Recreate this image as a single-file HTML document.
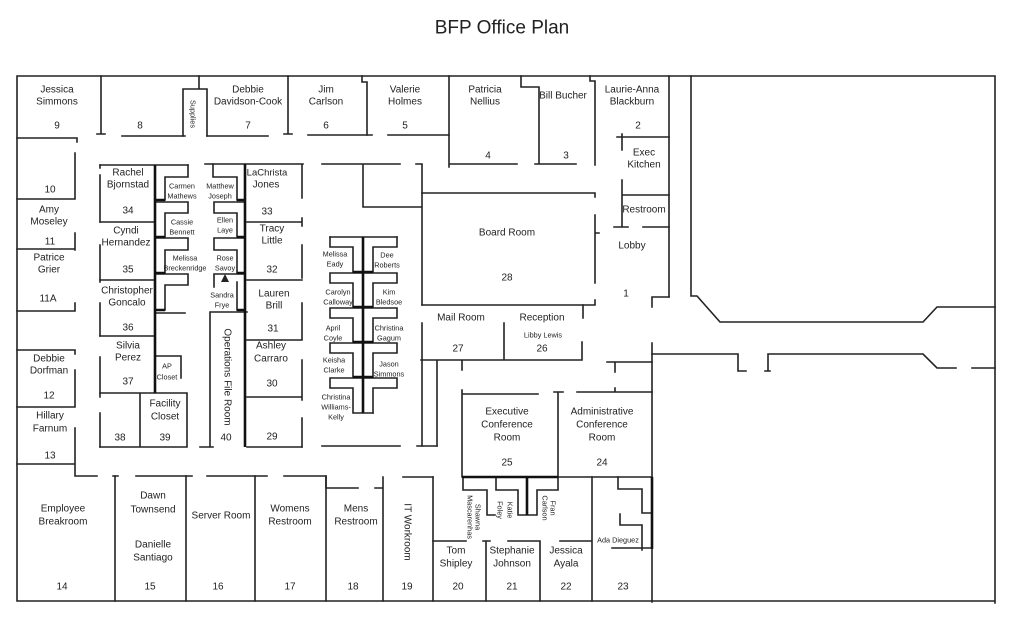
<!DOCTYPE html>
<html><head><meta charset="utf-8">
<style>
html,body{margin:0;padding:0;background:#fff;}
svg{display:block;}
text{font-family:"Liberation Sans",sans-serif;fill:#222;text-anchor:middle;dominant-baseline:central;}
.t{font-size:10px;}
.s{font-size:7.3px;}
.w{fill:none;stroke:#222;stroke-width:1.6;stroke-linecap:square;}
.k{fill:none;stroke:#111;stroke-width:2.6;}
</style></head>
<body>
<svg width="1022" height="624" viewBox="0 0 1022 624" xmlns="http://www.w3.org/2000/svg">
<rect width="1022" height="624" fill="#fff"/>
<text x="502" y="28" style="font-size:19px">BFP Office Plan</text>

<g class="w">
<!-- outer -->
<path d="M17,76 H995 V603 M17,76 V601 H995"/>
<!-- top rooms -->
<path d="M17,138 H77 V142"/>
<path d="M101,76 V134 M97,134 H105"/>
<path d="M122,136 H185"/>
<path d="M183,136 V89 H207 V136 M199,76 V89"/>
<path d="M207,136 H268"/>
<path d="M288,76 V134 M284,134 H292"/>
<path d="M308,135 H372"/>
<path d="M362,76 V82 H367 V135"/>
<path d="M388,135 H449"/>
<path d="M449,76 V167 M449,164 H517"/>
<path d="M521,76 V87 H539 V164 M535,164 H576"/>
<path d="M590,76 V81 H595 V165"/>
<path d="M669,76 V297"/>
<path d="M691,76 V296 H697 L720,322 H923 L937,307 H995"/>
<path d="M617,137 H669 M622,134 V150"/>
<path d="M622,180 V227 M622,195 H669 M614,227 H628 M643,227 H669"/>
<path d="M652,307 V297 H669"/>
<!-- board room area -->
<path d="M322,164 H400 M416,164 H422 V305 M363,164 V207 H422"/>
<path d="M422,193 H595 V197 M595,215 V283 M595,233 H599 M422,305 H595 V300"/>
<path d="M583,305 V318 M582,342 V360 M421,360 H582 M504,323 V360 M422,323 V446 M437,360 V446 M462,360 V370"/>
<path d="M322,446 H400 M417,446 H437"/>
<!-- lower right -->
<path d="M652,343 V602"/>
<path d="M652,354 H738 V371 H746 M768,371 V354 H923 L937,368 H956 M972,368 H995 M765,371 H770"/>
<path d="M607,362 H652 M615,362 V372"/>
<path d="M577,392 H652 M615,388 V392 M554,392 H563 M558,392 V477"/>
<path d="M462,394 H538 M462,390 V477 H652"/>
<!-- bottom row -->
<path d="M17,464 H75 M75,428 V476 H97 M113,476 H118 M136,476 H192 M207,476 H267 M284,476 H326 V488 H358 M375,488 H382 M403,477 H433"/>
<path d="M115,476 V601 M186,476 V601 M255,476 V601 M326,476 V601 M383,477 V601 M433,477 V601"/>
<path d="M433,541 H466 M483,541 H490 M486,541 V601 M508,541 H540 V601 M560,541 H592 M592,477 V601"/>
<path d="M463,477 V490 H487 V515 H495 M496,477 V490 H518 V515 H527 M558,477 V490 H537 V515 H528"/>
<path d="M618,477 V489 H642 V513 H651 M620,514 V525 H642 V550 M612,548 H652"/>
<!-- left column -->
<path d="M17,199 H75 M75,153 V199 M75,233 V250 M17,249 H75 M75,303 V311 M17,311 H75 M17,350 H75 V354 M75,370 V407 M17,407 H75"/>
<!-- rooms 34-39 -->
<path d="M100,165 V168 M100,175 V222 M100,245 V282 M100,303 V336 M100,357 V397 M100,413 V447"/>
<path d="M100,165 H188 M100,222 H155 M100,280 H155 M100,336 H155 M100,393 H187 M100,447 H187 M140,393 V447 M187,393 V447"/>
<path d="M155,356 H181 V378"/>
<path d="M155,313 H185"/>
<!-- left pods -->
<path d="M188,165 V177 H165 V200 M155,202 H188 V213 H165 V237 M155,238 H188 V250 H165 V273 M155,274 H188 V285 H165 V310"/>
<!-- right pods -->
<path d="M213,164 V177 H237 V200 M245,202 H214 V213 H237 V237 M245,238 H214 V250 H237 V273 M245,274 H214 V287 M237,282 V310"/>
<!-- ops file room / rooms 29-33 -->
<path d="M210,312 H247 M210,312 V447 M200,447 H213 M247,447 H302"/>
<path d="M205,164 H303 M302,164 V198 M247,222 H302 M302,218 V226 M302,245 V278 M247,280 H302 M302,303 V340 M247,340 H302 M302,360 V400 M247,397 H302 M302,418 V447"/>
<!-- middle cluster -->
<path d="M330,237 H397"/>
<path d="M330,237 V247 H353 V272 M363,273 H330 V283 H353 V307 M363,308 H330 V318 H353 V342 M363,343 H330 V353 H353 V377 M363,378 H330 V388 H353 V413 H373"/>
<path d="M397,237 V247 H373 V272 M363,273 H397 V283 H373 V307 M363,308 H397 V318 H373 V342 M363,343 H397 V353 H373 V377 M363,378 H397 V388 H373 V413"/>
</g>
<g class="k">
<path d="M155,165 V393"/>
<path d="M155,200 H165 M155,237 H165 M155,273 H165 M155,310 H165"/>
<path d="M245,164 V447"/>
<path d="M237,200 H245 M237,237 H245 M237,273 H245 M237,310 H245"/>
<path d="M363,237 V413"/>
<path d="M353,272 H373 M353,307 H373 M353,342 H373 M353,377 H373"/>
<path d="M462,477 H558 M527,477 V515 M652,477 V549"/>
</g>
<path d="M225,274 L221,282 L229,282 Z" fill="#222"/>

<!-- labels top -->
<g class="t">
<text x="57" y="90">Jessica</text><text x="57" y="102">Simmons</text><text x="57" y="126">9</text>
<text x="140" y="126">8</text>
<text x="248" y="90">Debbie</text><text x="248" y="102">Davidson-Cook</text><text x="248" y="126">7</text>
<text x="326" y="90">Jim</text><text x="326" y="102">Carlson</text><text x="326" y="126">6</text>
<text x="405" y="90">Valerie</text><text x="405" y="102">Holmes</text><text x="405" y="126">5</text>
<text x="485" y="90">Patricia</text><text x="485" y="102">Nellius</text><text x="488" y="156">4</text>
<text x="563" y="96">Bill Bucher</text><text x="566" y="156">3</text>
<text x="632" y="90">Laurie-Anna</text><text x="632" y="102">Blackburn</text><text x="638" y="126">2</text>
<text x="644" y="153">Exec</text><text x="644" y="165">Kitchen</text>
<text x="644" y="210">Restroom</text>
<text x="632" y="246">Lobby</text>
<text x="626" y="294">1</text>
<text x="507" y="233">Board Room</text><text x="507" y="278">28</text>
<text x="461" y="318">Mail Room</text><text x="542" y="318">Reception</text>
<text x="458" y="349">27</text><text x="542" y="349">26</text>
<text x="507" y="412">Executive</text><text x="507" y="425">Conference</text><text x="507" y="438">Room</text><text x="507" y="463">25</text>
<text x="602" y="412">Administrative</text><text x="602" y="425">Conference</text><text x="602" y="438">Room</text><text x="602" y="463">24</text>

<text x="50" y="190">10</text>
<text x="49" y="210">Amy</text><text x="49" y="222">Moseley</text><text x="50" y="242">11</text>
<text x="49" y="258">Patrice</text><text x="49" y="270">Grier</text><text x="48" y="299">11A</text>
<text x="49" y="359">Debbie</text><text x="49" y="371">Dorfman</text><text x="49" y="396">12</text>
<text x="50" y="416">Hillary</text><text x="50" y="429">Farnum</text><text x="50" y="456">13</text>

<text x="128" y="173">Rachel</text><text x="128" y="185">Bjornstad</text><text x="128" y="211">34</text>
<text x="126" y="231">Cyndi</text><text x="126" y="243">Hernandez</text><text x="128" y="270">35</text>
<text x="127" y="291">Christopher</text><text x="127" y="303">Goncalo</text><text x="128" y="328">36</text>
<text x="128" y="346">Silvia</text><text x="128" y="358">Perez</text><text x="128" y="382">37</text>
<text x="165" y="404">Facility</text><text x="165" y="417">Closet</text>
<text x="120" y="438">38</text><text x="165" y="438">39</text><text x="226" y="438">40</text>

<text x="267" y="173" style="font-size:9.5px">LaChrista</text><text x="266" y="185">Jones</text><text x="267" y="212">33</text>
<text x="272" y="229">Tracy</text><text x="272" y="241">Little</text><text x="272" y="270">32</text>
<text x="274" y="294">Lauren</text><text x="274" y="306">Brill</text><text x="273" y="329">31</text>
<text x="271" y="346">Ashley</text><text x="271" y="359">Carraro</text><text x="272" y="384">30</text>
<text x="272" y="437">29</text>

<text x="63" y="509">Employee</text><text x="63" y="522">Breakroom</text><text x="62" y="587">14</text>
<text x="153" y="496">Dawn</text><text x="153" y="510">Townsend</text><text x="153" y="545">Danielle</text><text x="153" y="558">Santiago</text><text x="150" y="587">15</text>
<text x="221" y="516">Server Room</text><text x="218" y="587">16</text>
<text x="290" y="509">Womens</text><text x="290" y="522">Restroom</text><text x="290" y="587">17</text>
<text x="356" y="509">Mens</text><text x="356" y="522">Restroom</text><text x="353" y="587">18</text>
<text x="407" y="587">19</text>
<text x="456" y="551">Tom</text><text x="456" y="564">Shipley</text><text x="458" y="587">20</text>
<text x="512" y="551">Stephanie</text><text x="512" y="564">Johnson</text><text x="512" y="587">21</text>
<text x="566" y="551">Jessica</text><text x="566" y="564">Ayala</text><text x="566" y="587">22</text>
<text x="623" y="587">23</text>

<text transform="translate(227,377) rotate(90)">Operations File Room</text>
<text transform="translate(407,532) rotate(90)">IT Workroom</text>
</g>

<g class="s">
<text transform="translate(193,114) rotate(90)">Supplies</text>
<text x="543" y="335">Libby Lewis</text>
<text x="167" y="366">AP</text><text x="167" y="377">Closet</text>
<text x="182" y="186">Carmen</text><text x="182" y="196">Mathews</text>
<text x="182" y="222">Cassie</text><text x="182" y="232">Bennett</text>
<text x="185" y="258">Melissa</text><text x="185" y="268">Breckenridge</text>
<text x="220" y="186">Matthew</text><text x="220" y="196">Joseph</text>
<text x="225" y="220">Ellen</text><text x="225" y="230">Laye</text>
<text x="225" y="258">Rose</text><text x="225" y="268">Savoy</text>
<text x="222" y="295">Sandra</text><text x="222" y="305">Frye</text>

<text x="335" y="254">Melissa</text><text x="335" y="264">Eady</text>
<text x="387" y="255">Dee</text><text x="387" y="265">Roberts</text>
<text x="338" y="292">Carolyn</text><text x="338" y="302">Calloway</text>
<text x="389" y="292">Kim</text><text x="389" y="302">Bledsoe</text>
<text x="333" y="328">April</text><text x="333" y="338">Coyle</text>
<text x="389" y="328">Christina</text><text x="389" y="338">Gagum</text>
<text x="334" y="360">Keisha</text><text x="334" y="370">Clarke</text>
<text x="389" y="364">Jason</text><text x="389" y="374">Simmons</text>
<text x="336" y="397">Christina</text><text x="336" y="407">Williams-</text><text x="336" y="417">Kelly</text>

<text x="618" y="540">Ada Dieguez</text>
<text transform="translate(478,517) rotate(90)">Shawna</text>
<text transform="translate(470,517) rotate(90)">Mascarenhas</text>
<text transform="translate(510,510) rotate(90)">Katie</text>
<text transform="translate(500,510) rotate(90)">Foley</text>
<text transform="translate(553,508) rotate(90)">Fran</text>
<text transform="translate(545,508) rotate(90)">Carlson</text>
</g>
</svg>
</body></html>
